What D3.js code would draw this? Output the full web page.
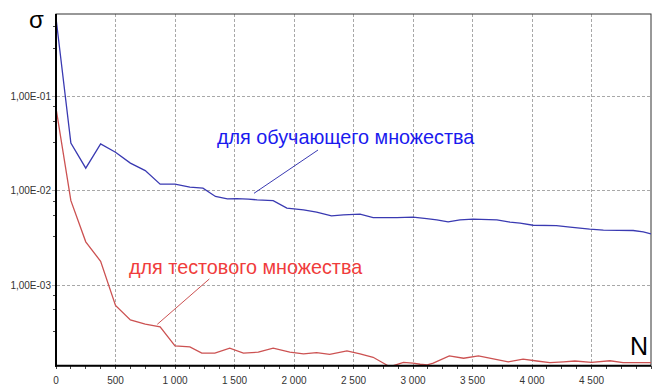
<!DOCTYPE html>
<html><head><meta charset="utf-8">
<script src="https://cdn.jsdelivr.net/npm/d3@7"></script>
<style>
html,body{margin:0;padding:0;background:#fff;}
svg{display:block;font-family:"Liberation Sans",Arial,sans-serif;}
</style></head>
<body><svg id="c" width="660" height="392"></svg>
<script>
// ---- data ----
const trainN = [0,125,250,375,500,625,750,875,1000,1125,1235,1340,1440,1520,1615,1690,1825,1940,2080,2190,2315,2415,2555,2665,2865,3000,3115,3200,3295,3395,3505,3705,3815,3900,4010,4205,4320,4485,4600,4850,4935,5000];
const trainS = [0.68,0.0321,0.0174,0.0315,0.0257,0.0197,0.0164,0.01178,0.01178,0.01094,0.01069,0.00871,0.00823,0.00829,0.00817,0.00803,0.00789,0.00656,0.00630,0.00595,0.00543,0.00557,0.00566,0.00521,0.00521,0.00526,0.00508,0.00493,0.00469,0.00493,0.00501,0.00493,0.00466,0.00454,0.00432,0.00428,0.00412,0.00392,0.00383,0.00380,0.00367,0.00350];
const testN = [0,125,250,375,500,625,750,875,1000,1125,1225,1335,1460,1575,1700,1825,1965,2080,2190,2300,2445,2555,2665,2790,2835,2920,3000,3060,3120,3170,3305,3425,3550,3675,3800,3925,4040,4150,4265,4360,4500,4655,4765,5000];
const testS = [0.0753,0.00787,0.00288,0.00179,0.000611,0.000428,0.000386,0.000361,0.000227,0.000222,0.000190,0.000190,0.000215,0.000190,0.000195,0.000215,0.000195,0.000187,0.000193,0.000185,0.000201,0.000187,0.000172,0.000140,0.000140,0.000152,0.000149,0.000145,0.000143,0.000149,0.000178,0.000168,0.000178,0.000165,0.000154,0.000164,0.000157,0.000151,0.000154,0.000157,0.000152,0.000158,0.000151,0.000151];
const xTicks = [0,500,1000,1500,2000,2500,3000,3500,4000,4500];
const yTicks = [1e-3,1e-2,1e-1];
const yTickLabels = ["1,00E-03","1,00E-02","1,00E-01"];
const trainLabel = "для обучающего множества";
const testLabel = "для тестового множества";
const yTitle = "σ", xTitle = "N";

// ---- layout ----
const L=56, R=651, T=14, B=365.7;
const svg = d3.select("#c");
const x = d3.scaleLinear().domain([0,5000]).range([L,R]);
const y = d3.scaleLog().domain([1.4e-4,0.75]).range([B,T]);

const loc = d3.formatLocale({decimal:",",thousands:" ",grouping:[3],currency:["",""]});
const fx = loc.format(",d");

// grid
const g = svg.append("g");
g.selectAll(".vg").data(xTicks.filter(d=>d>0)).enter().append("line")
 .attr("x1",d=>x(d)).attr("x2",d=>x(d)).attr("y1",T).attr("y2",B)
 .attr("stroke","#a8a8a8").attr("stroke-dasharray","3,2").attr("shape-rendering","crispEdges");
g.selectAll(".hg").data(yTicks).enter().append("line")
 .attr("x1",L-4).attr("x2",R).attr("y1",d=>y(d)).attr("y2",d=>y(d))
 .attr("stroke","#a8a8a8").attr("stroke-dasharray","3,2").attr("shape-rendering","crispEdges");

// minor ticks
const yMinor = [];
[1e-4,1e-3,1e-2,1e-1].forEach(dec=>[3.25,5.5,7.75].forEach(m=>{const v=dec*m; if(v>=1.4e-4&&v<=0.75) yMinor.push(v);}));
g.selectAll(".ym").data(yMinor).enter().append("line")
 .attr("x1",L-3).attr("x2",L).attr("y1",d=>y(d)).attr("y2",d=>y(d))
 .attr("stroke","#444").attr("shape-rendering","crispEdges");
const xMinor = d3.range(0,5001,125);
g.selectAll(".xm").data(xMinor).enter().append("line")
 .attr("x1",d=>x(d)).attr("x2",d=>x(d)).attr("y1",B).attr("y2",B+3)
 .attr("stroke","#444").attr("shape-rendering","crispEdges");

// frame
svg.append("rect").attr("x",L).attr("y",T).attr("width",R-L).attr("height",B-T)
 .attr("fill","none").attr("stroke","#333").attr("stroke-width",1);

// lines
svg.append("clipPath").attr("id","pc").append("rect").attr("x",L).attr("y",T-2).attr("width",R-L).attr("height",B-T+2);
const line = d3.line().x(d=>x(d[0])).y(d=>y(d[1]));
svg.append("path").datum(trainN.map((n,i)=>[n,trainS[i]])).attr("d",line)
 .attr("fill","none").attr("stroke","#3a3ab2").attr("stroke-width",1.3).attr("clip-path","url(#pc)");
svg.append("path").datum(testN.map((n,i)=>[n,testS[i]])).attr("d",line)
 .attr("fill","none").attr("stroke","#cc5252").attr("stroke-width",1.3).attr("clip-path","url(#pc)");

// axes thick lines
svg.append("line").attr("x1",L).attr("x2",L).attr("y1",T).attr("y2",B+1).attr("stroke","#000").attr("stroke-width",2);
svg.append("line").attr("x1",L-1).attr("x2",R).attr("y1",B).attr("y2",B).attr("stroke","#000").attr("stroke-width",2);

// tick labels
svg.selectAll(".xl").data(xTicks).enter().append("text")
 .attr("x",d=>x(d)).attr("y",384).attr("text-anchor","middle")
 .attr("font-size",10).attr("fill","#333").text(d=>fx(d));
svg.selectAll(".yl").data(yTicks).enter().append("text")
 .attr("x",51).attr("y",d=>y(d)+3.5).attr("text-anchor","end")
 .attr("font-size",10).attr("fill","#333").text((d,i)=>yTickLabels[i]);

// titles
svg.append("text").attr("x",29).attr("y",28).attr("font-size",24).attr("fill","#000").text(yTitle);
svg.append("text").attr("x",630).attr("y",354.5).attr("font-size",25).attr("fill","#000").text(xTitle);

// annotations
svg.append("text").attr("x",217).attr("y",144).attr("font-size",19.8).attr("fill","#1a1aee").text(trainLabel);
svg.append("line").attr("x1",318).attr("y1",150).attr("x2",254).attr("y2",193.3).attr("stroke","#3a3ab2").attr("stroke-width",1);
svg.append("text").attr("x",129).attr("y",274).attr("font-size",19.8).attr("fill","#f03c3c").text(testLabel);
svg.append("line").attr("x1",209.3).attr("y1",279).attr("x2",157.3).attr("y2",324.3).attr("stroke","#cc5252").attr("stroke-width",1);
</script></body></html>
